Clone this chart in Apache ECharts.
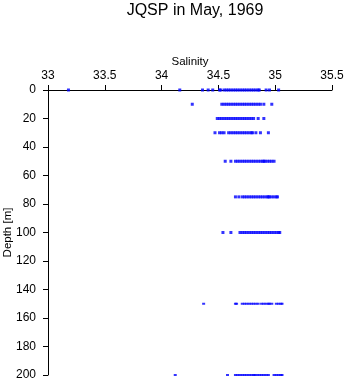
<!DOCTYPE html>
<html><head><meta charset="utf-8">
<script src="https://cdn.jsdelivr.net/npm/echarts@6/dist/echarts.min.js"></script>
<style>html,body{margin:0;padding:0;background:#fff}#c{width:346px;height:384px}</style>
</head><body><div id="c"></div>
<script>
const depths = [0, 10, 20, 30, 50, 75, 100, 150, 200];
const sal0 = [33.18, 34.16, 34.36, 34.41, 34.45, 34.51, 34.52, 34.55, 34.57, 34.59, 34.61, 34.63, 34.65, 34.67, 34.69, 34.71, 34.73, 34.75, 34.77, 34.79, 34.81, 34.83, 34.85, 34.86, 34.92, 34.95, 35.03];
const sal10 = [34.27, 34.53, 34.55, 34.57, 34.59, 34.61, 34.63, 34.65, 34.67, 34.69, 34.71, 34.73, 34.75, 34.77, 34.79, 34.81, 34.83, 34.85, 34.87, 34.90, 34.97];
const sal20 = [34.49, 34.51, 34.53, 34.55, 34.57, 34.59, 34.61, 34.63, 34.65, 34.67, 34.69, 34.71, 34.73, 34.75, 34.77, 34.79, 34.81, 34.85, 34.90];
const sal30 = [34.47, 34.51, 34.53, 34.55, 34.59, 34.61, 34.63, 34.65, 34.67, 34.69, 34.71, 34.73, 34.75, 34.77, 34.79, 34.80, 34.83, 34.87, 34.94];
const sal50 = [34.56, 34.61, 34.65, 34.67, 34.69, 34.71, 34.73, 34.75, 34.77, 34.79, 34.81, 34.83, 34.85, 34.87, 34.89, 34.90, 34.91, 34.93, 34.95, 34.97, 34.99];
const sal75 = [34.65, 34.68, 34.71, 34.73, 34.75, 34.77, 34.79, 34.81, 34.83, 34.85, 34.87, 34.89, 34.91, 34.93, 34.94, 34.95, 34.97, 34.99, 35.01, 35.02];
const sal100 = [34.54, 34.61, 34.69, 34.71, 34.73, 34.75, 34.77, 34.79, 34.81, 34.83, 34.85, 34.87, 34.89, 34.91, 34.93, 34.95, 34.97, 34.99, 35.01, 35.03, 35.04];
const sal150 = [34.37, 34.65, 34.66, 34.71, 34.73, 34.75, 34.77, 34.79, 34.81, 34.83, 34.85, 34.88, 34.90, 34.92, 34.94, 34.95, 34.97, 35.01, 35.03, 35.05, 35.06];
const sal200 = [34.12, 34.58, 34.65, 34.67, 34.69, 34.71, 34.73, 34.75, 34.77, 34.79, 34.81, 34.82, 34.84, 34.86, 34.88, 34.90, 34.92, 34.94, 34.99, 35.01, 35.03, 35.05, 35.06];
const xTicks = ['33', '33.5', '34', '34.5', '35', '35.5'];
const salRows = [sal0, sal10, sal20, sal30, sal50, sal75, sal100, sal150, sal200];

const series = salRows.map((row, i) => ({
  type: 'scatter',
  symbol: 'rect',
  symbolSize: depths[i] >= 150 ? [3, 2] : [3, 3],
  itemStyle: { color: '#0000ff' },
  silent: true,
  data: row.map(s => [s, depths[i]])
}));

const font = 'Liberation Sans, Arial, Helvetica, sans-serif';
const chart = echarts.init(document.getElementById('c'), null, { renderer: 'canvas' });
chart.setOption({
  animation: false,
  title: {
    text: 'JQSP in May, 1969', left: 190, top: -2, textAlign: 'center',
    textStyle: { fontFamily: font, fontSize: 16, fontWeight: 'normal', color: '#000' }
  },
  grid: { left: 48, top: 90, width: 284, height: 285, containLabel: false, outerBoundsMode: 'none' },
  xAxis: {
    type: 'value', position: 'top', min: 33, max: 35.5, interval: 0.5,
    name: 'Salinity', nameLocation: 'middle', nameGap: 22, nameMoveOverlap: false,
    nameTextStyle: { fontFamily: font, fontSize: 11.5, color: '#000' },
    axisLine: { show: true, lineStyle: { color: '#000', width: 1 } },
    axisTick: { show: true, inside: false, length: 5, lineStyle: { color: '#000' } },
    axisLabel: { fontFamily: font, fontSize: 12, color: '#000', margin: 8,
      formatter: v => xTicks[Math.round((v - 33) / 0.5)] },
    splitLine: { show: false }
  },
  yAxis: {
    type: 'value', inverse: true, min: 0, max: 200, interval: 20,
    name: 'Depth [m]', nameLocation: 'middle', nameGap: 34, nameRotate: 90, nameMoveOverlap: false,
    nameTextStyle: { fontFamily: font, fontSize: 11.5, color: '#000' },
    axisLine: { show: true, onZero: false, lineStyle: { color: '#000', width: 1 } },
    axisTick: { show: true, inside: false, length: 5, lineStyle: { color: '#000' } },
    axisLabel: { fontFamily: font, fontSize: 12, color: '#000', margin: 12 },
    splitLine: { show: false }
  },
  series: series
});
</script></body></html>
